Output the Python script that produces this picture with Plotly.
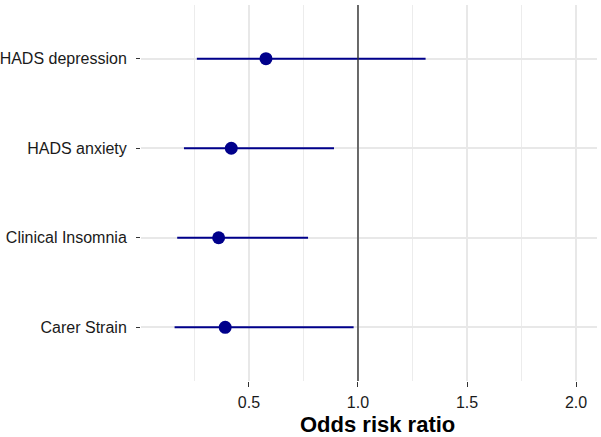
import plotly.graph_objects as go

# forest plot data
outcomes = ['HADS depression', 'HADS anxiety', 'Clinical Insomnia', 'Carer Strain']
odds_ratio = [0.578, 0.419, 0.361, 0.391]
ci_lower = [0.261, 0.202, 0.171, 0.159]
ci_upper = [1.310, 0.890, 0.771, 0.980]
null_ratio = 1.0

err_plus = [u - o for u, o in zip(ci_upper, odds_ratio)]
err_minus = [o - l for o, l in zip(odds_ratio, ci_lower)]

fig = go.Figure()

fig.add_trace(go.Scatter(
    x = odds_ratio,
    y = outcomes,
    mode = 'markers',
    marker = dict(color = '#00008B', size = 13),
    error_x = dict(
        type = 'data',
        symmetric = False,
        array = err_plus,
        arrayminus = err_minus,
        color = '#00008B',
        thickness = 2,
        width = 0
    ),
    showlegend = False
    ))

fig.add_vline(x = null_ratio, line_color = '#333333', line_width = 1.4, layer = 'above')

# axis title as annotation so it sits where ggplot put it
fig.add_annotation(
    text = '<b>Odds risk ratio</b>',
    xref = 'paper', yref = 'paper',
    x = 0.519, y = -0.117,
    xanchor = 'center', yanchor = 'middle',
    showarrow = False,
    font = dict(size = 22, color = 'black')
    )

fig.update_layout(
    width = 601, height = 437,
    margin = dict(l = 141, r = 4, t = 5, b = 56),
    plot_bgcolor = 'white',
    paper_bgcolor = 'white',
    font = dict(family = 'Liberation Sans, Arial, sans-serif', size = 16, color = '#1a1a1a'),
    xaxis = dict(
        range = [0.005, 2.096],
        tickvals = [0.5, 1.0, 1.5, 2.0],
        ticktext = ['0.5', '1.0', '1.5', '2.0'],
        showgrid = True, gridcolor = '#e8e8e8', gridwidth = 1.5,
        minor = dict(dtick = 0.25, tick0 = 0, showgrid = True, gridcolor = '#ececec', gridwidth = 1),
        ticks = 'outside', ticklen = 5, tickcolor = '#333333', tickwidth = 1.4,
        ticklabelstandoff = 2,
        zeroline = False, showline = False,
        automargin = False,
    ),
    yaxis = dict(
        type = 'category',
        categoryorder = 'array',
        categoryarray = outcomes[::-1],
        range = [-0.6, 3.6],
        showgrid = True, gridcolor = '#e8e8e8', gridwidth = 1.5,
        ticks = 'outside', ticklen = 4, tickcolor = '#333333', tickwidth = 1.4,
        ticklabelstandoff = 6,
        zeroline = False, showline = False,
        automargin = False,
    ),
)

# drop the default page margin so the figure sits at the window corner
fig.write_html("out.html", config = {'displayModeBar': False},
               post_script = "document.body.style.margin = '0';")
